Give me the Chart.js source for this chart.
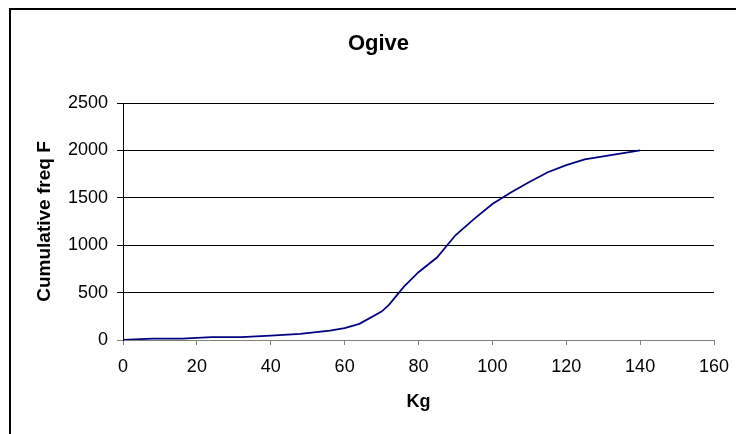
<!DOCTYPE html>
<html>
<head>
<meta charset="utf-8">
<script src="https://cdn.jsdelivr.net/npm/chart.js@4/dist/chart.umd.min.js"></script>
<style>
  html, body { margin: 0; padding: 0; background: #fff; overflow: hidden; }
  #c { display: block; }
</style>
</head>
<body>
<canvas id="c" width="736" height="434"></canvas>
<script>
// ---- data ----
const kg =       [0, 8, 16, 24, 32, 40, 48, 56, 60, 64, 70, 72, 76, 80, 85, 90, 95, 100, 105, 110, 115, 120, 125, 140];
const cumFreq =  [0, 15, 15, 30, 30, 45, 65, 100, 125, 170, 300, 370, 560, 715, 870, 1105, 1275, 1435, 1557, 1666, 1770, 1845, 1905, 2000];
const xTicks = [0, 20, 40, 60, 80, 100, 120, 140, 160];
const yTicks = [0, 500, 1000, 1500, 2000, 2500];
const chartTitle = 'Ogive';
const xTitle = 'Kg';
const yTitle = 'Cumulative freq F';

const FONT = "'Liberation Sans', Arial, sans-serif";

const framePlugin = {
  id: 'frame',
  afterDraw(chart) {
    const ctx = chart.ctx;
    ctx.save();
    ctx.fillStyle = '#000';
    ctx.fillRect(9, 8, 727, 2);
    ctx.fillRect(9, 8, 2, 426);
    ctx.restore();
  }
};

new Chart(document.getElementById('c'), {
  type: 'line',
  data: {
    datasets: [{
      data: kg.map((x, i) => ({ x: x, y: cumFreq[i] })),
      borderColor: '#000080',
      borderWidth: 1.75,
      pointRadius: 0,
      tension: 0,
      fill: false
    }]
  },
  options: {
    responsive: false,
    animation: false,
    layout: { padding: { left: 43, right: 22, top: 0, bottom: 0 } },
    plugins: {
      legend: { display: false },
      tooltip: { enabled: false },
      title: {
        display: true,
        text: chartTitle,
        color: '#000',
        font: { family: FONT, size: 22, weight: 'bold' },
        padding: { top: 31, bottom: 45.6 }
      }
    },
    scales: {
      x: {
        type: 'linear',
        min: 0, max: 160,
        afterBuildTicks(scale) { scale.ticks = xTicks.map(v => ({ value: v })); },
        afterFit(scale) { scale.height = 94; scale.paddingRight = 0; scale.paddingLeft = 0; },
        ticks: { color: '#000', font: { family: FONT, size: 18 }, padding: 11, maxRotation: 0, autoSkip: false,
                 callback: v => String(v) },
        grid: { drawOnChartArea: false, drawTicks: true, tickLength: 5, color: '#808080', lineWidth: 1 },
        border: { display: true, color: '#808080', width: 1 },
        title: {
          display: true, text: xTitle, color: '#000',
          font: { family: FONT, size: 18, weight: 'bold' },
          padding: { top: 0, bottom: 21 }
        }
      },
      y: {
        min: 0, max: 2500,
        afterBuildTicks(scale) { scale.ticks = yTicks.map(v => ({ value: v })); },
        afterFit(scale) { scale.width = 80; },
        ticks: { color: '#000', font: { family: FONT, size: 18 }, padding: 9, autoSkip: false,
                 callback: v => String(v) },
        grid: {
          drawOnChartArea: true, drawTicks: true, tickLength: 6,
          color: ctx => (ctx.tick && ctx.tick.value === 0) ? '#808080' : '#000',
          lineWidth: 1
        },
        border: { display: true, color: '#000', width: 1 },
        title: {
          display: true, text: yTitle, color: '#000',
          font: { family: FONT, size: 19, weight: 'bold' },
          padding: { top: -9.4, bottom: 0 }
        }
      }
    }
  },
  plugins: [framePlugin]
});
</script>
</body>
</html>
